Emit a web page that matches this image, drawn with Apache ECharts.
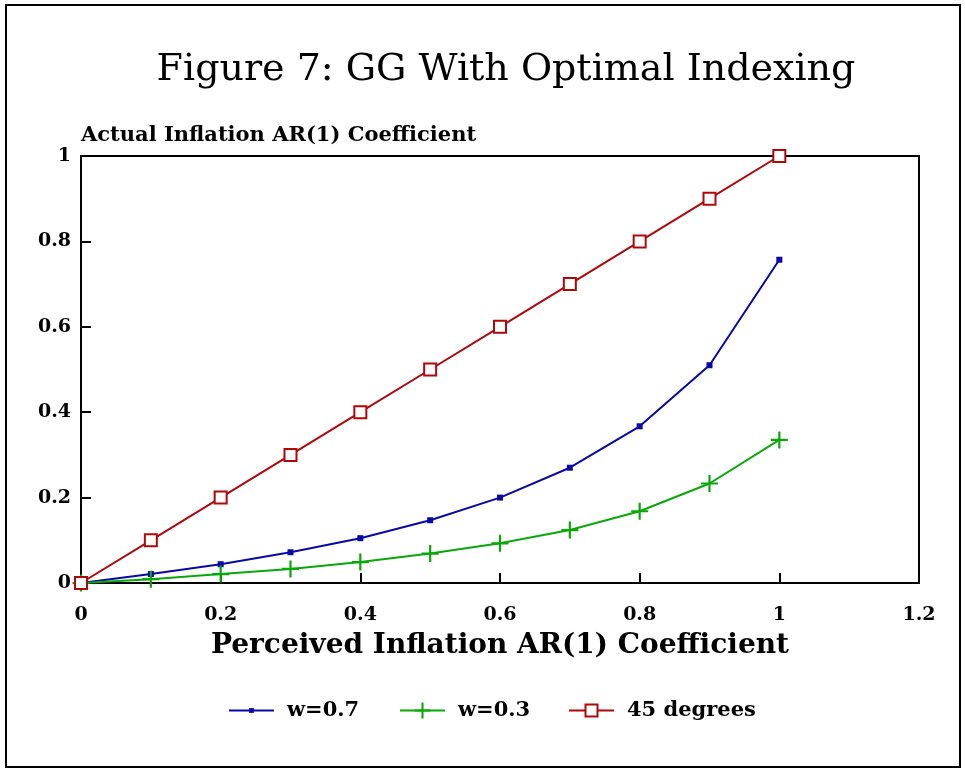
<!DOCTYPE html>
<html style="height: 100%">
<head>
    <meta charset="utf-8">
    <title>Figure 7</title>
</head>
<body style="height: 100%; margin: 0; background: #fff">
<div id="container" style="width: 965px; height: 772px"></div>
<script type="text/javascript" src="https://cdn.jsdelivr.net/npm/echarts@6/dist/echarts.min.js"></script>
<script type="text/javascript">
    // perceived AR(1) coefficient
    var xValues = [0, 0.1, 0.2, 0.3, 0.4, 0.5, 0.6, 0.7, 0.8, 0.9, 1];
    // actual AR(1) coefficient
    var w07 = [0, 0.021, 0.044, 0.072, 0.105, 0.147, 0.200, 0.270, 0.367, 0.510, 0.757];
    var w03 = [0, 0.009, 0.021, 0.033, 0.049, 0.069, 0.093, 0.124, 0.168, 0.233, 0.335];
    var deg45 = [0, 0.1, 0.2, 0.3, 0.4, 0.5, 0.6, 0.7, 0.8, 0.9, 1];
    var seriesNames = ['w=0.7', 'w=0.3', '45 degrees'];

    function pairs(ys) {
        return xValues.map(function (x, i) { return [x, ys[i]]; });
    }

    var serifFont = '"DejaVu Serif", "Liberation Serif", serif';
    var plusPath = 'path://M8.7,0H11.3V8.7H20V11.3H11.3V20H8.7V11.3H0V8.7H8.7Z';
    var blue = '#0808a8', green = '#08a808', red = '#b00808';

    var boldText = {
        fontFamily: serifFont,
        fontWeight: 'bold',
        color: '#000'
    };

    // one legend per series so each icon can keep its own size
    function legendFor(name, left, itemHeight) {
        return {
            left: left,
            top: 700,
            padding: 0,
            itemWidth: 45,
            itemHeight: itemHeight,
            textStyle: Object.assign({ fontSize: 21, padding: [0, 0, 0, 8] }, boldText),
            data: [name]
        };
    }

    var dom = document.getElementById("container");
    var myChart = echarts.init(dom);
    var option = {
        backgroundColor: '#fff',
        animation: false,
        title: {
            text: 'Figure 7: GG With Optimal Indexing',
            left: 501,
            top: 46,
            textAlign: 'center',
            textStyle: {
                fontFamily: serifFont,
                fontSize: 38,
                fontWeight: 'normal',
                color: '#000'
            }
        },
        graphic: [{
            type: 'rect',
            shape: { x: 6, y: 5, width: 954, height: 762 },
            style: { fill: 'none', stroke: '#000', lineWidth: 2 },
            silent: true
        }],
        legend: [
            legendFor(seriesNames[0], 228, 6),
            legendFor(seriesNames[1], 399, 20),
            legendFor(seriesNames[2], 568, 15)
        ],
        grid: {
            left: 81,
            right: 46,
            top: 156,
            bottom: 189,
            show: true,
            borderColor: '#000',
            borderWidth: 2
        },
        xAxis: {
            type: 'value',
            min: 0,
            max: 1.2,
            interval: 0.2,
            name: 'Perceived Inflation AR(1) Coefficient',
            nameLocation: 'middle',
            nameGap: 49,
            nameTextStyle: Object.assign({ fontSize: 28 }, boldText),
            axisLine: { lineStyle: { color: '#000', width: 2 } },
            axisTick: { inside: true, length: 10, lineStyle: { color: '#000', width: 2 } },
            axisLabel: Object.assign({ margin: 23, fontSize: 19 }, boldText),
            splitLine: { show: false }
        },
        yAxis: {
            type: 'value',
            min: 0,
            max: 1,
            interval: 0.2,
            name: 'Actual Inflation AR(1) Coefficient',
            nameLocation: 'end',
            nameGap: 10,
            nameTextStyle: Object.assign({ align: 'left', fontSize: 21 }, boldText),
            axisLine: { lineStyle: { color: '#000', width: 2 } },
            axisTick: { inside: true, length: 10, lineStyle: { color: '#000', width: 2 } },
            axisLabel: Object.assign({ margin: 10, fontSize: 19 }, boldText),
            splitLine: { show: false }
        },
        series: [{
            name: seriesNames[0],
            type: 'line',
            data: pairs(w07),
            symbol: 'rect',
            symbolSize: 6,
            color: blue,
            lineStyle: { width: 2, color: blue },
            itemStyle: { color: blue }
        }, {
            name: seriesNames[1],
            type: 'line',
            data: pairs(w03),
            symbol: plusPath,
            symbolSize: 17,
            color: green,
            lineStyle: { width: 2, color: green },
            itemStyle: { color: green }
        }, {
            name: seriesNames[2],
            type: 'line',
            data: pairs(deg45),
            symbol: 'emptyRect',
            symbolSize: 12,
            color: red,
            lineStyle: { width: 2, color: red },
            itemStyle: { color: red, borderColor: red, borderWidth: 1.8 }
        }]
    };
    myChart.setOption(option);
</script>
</body>
</html>
